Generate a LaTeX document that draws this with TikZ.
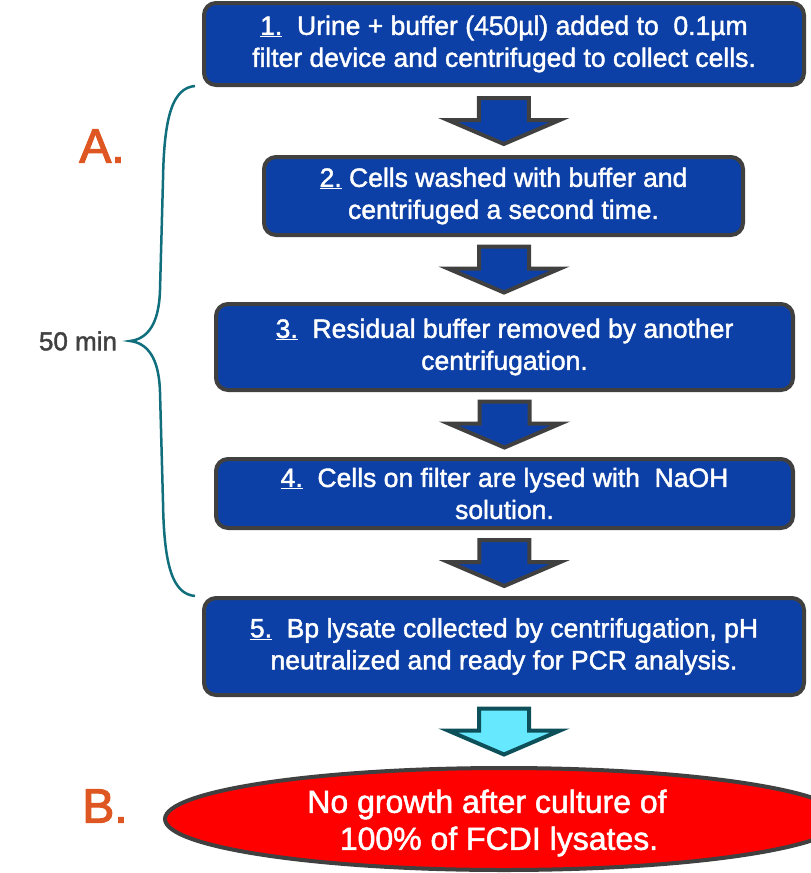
\documentclass[tikz,border=0pt]{standalone}
\usepackage{fontspec}
\setmainfont{Liberation Sans}
\newfontfamily\heavyfont{Liberation Sans}[FakeBold=1.6]
\newfontfamily\labelfont{Liberation Sans}[FakeBold=2.5]
\usepackage{tikz}
\usetikzlibrary{shapes.geometric,calc}

\definecolor{stepblue}{RGB}{13,64,166}
\definecolor{edgegray}{RGB}{64,64,64}
\definecolor{lightcyan}{RGB}{102,232,255}
\definecolor{darkteal}{RGB}{14,80,90}
\definecolor{labelorange}{RGB}{222,87,34}
\definecolor{bracecolor}{RGB}{16,110,125}

\begin{document}
\begin{tikzpicture}[x=1pt, y=-1pt]
    \tikzstyle{stepbox} = [
        draw=edgegray,
        line width=4pt,
        fill=stepblue,
        rounded corners=12pt,
        inner sep=0pt,
        text=white,
        align=center,
        font=\heavyfont\fontsize{26.5}{32}\selectfont,
        execute at begin node={\rule{0pt}{28pt}}
    ]
    \tikzstyle{bluearrow} = [draw=edgegray, line width=4pt, fill=stepblue]
    \tikzstyle{cyanarrow} = [draw=darkteal, line width=4pt, fill=lightcyan]
    \tikzstyle{partlabel} = [text=labelorange, font=\labelfont\fontsize{48}{48}\selectfont]

    \useasboundingbox (0,0) rectangle (811,873);

    \node[stepbox, minimum width=600pt, minimum height=82pt] (s1) at (504,44)
        {\underline{1.}\ \ Urine + buffer (450µl) added to\ \ 0.1µm\\filter device and centrifuged to collect cells.};
    \node[stepbox, minimum width=479pt, minimum height=78pt] (s2) at (503.5,196)
        {\underline{2.} Cells washed with buffer and\\centrifuged a second time.};
    \node[stepbox, minimum width=577pt, minimum height=86pt] (s3) at (504.5,347)
        {\underline{3.}\ \ Residual buffer removed by another\\centrifugation.};
    \node[stepbox, minimum width=577pt, minimum height=69pt] (s4) at (504.5,493.5)
        {\underline{4.}\ \ Cells on filter are lysed with\ \ NaOH\\solution.};
    \node[stepbox, minimum width=600pt, minimum height=97pt] (s5) at (504,646.5)
        {\underline{5.}\ \ Bp lysate collected by centrifugation, pH\\neutralized and ready for PCR analysis.};

    \node[draw=edgegray, line width=4pt, fill=red, ellipse,
          minimum width=678pt, minimum height=102pt] (res) at (504,819) {};
    \node[text=white, align=center, font=\heavyfont\fontsize{32}{37}\selectfont]
        (restext) at ([xshift=-17pt, yshift=-4pt]res.center)
        {No growth after culture of\\\hspace*{24pt}100\% of FCDI lysates.};

    \node[partlabel] (partA) at (102,146) {A.};
    \node[partlabel] (partB) at (105,806) {B.};
    \node[text=edgegray, font=\heavyfont\fontsize{26}{32}\selectfont] (time) at (78,341) {50 min};

    % block arrows between the steps
    \foreach \a/\b/\s in {s1/s2/bluearrow, s2/s3/bluearrow, s3/s4/bluearrow,
                          s4/s5/bluearrow, s5/res/cyanarrow} {
        \coordinate (m) at ($(\a.south)!0.5!(\b.north)$);
        \draw[\s, shift={(m)}] (-25,-23) -- (25,-23) -- (25,-1) -- (56,-1)
            -- (0,23) -- (-56,-1) -- (-25,-1) -- cycle;
    }

    % brace for steps 1 to 4
    \coordinate (bracetop) at (195,86);
    \coordinate (bracetip) at (130,341);
    \coordinate (bracebot) at (195,596);
    \draw[bracecolor, line width=2.5pt]
        (bracetop) .. controls (173,88) and (164,115) .. (163,180)
        -- (160,290) .. controls (159,325) and (147,339) .. (bracetip)
        .. controls (147,343) and (159,357) .. (160,392)
        -- (163,502) .. controls (164,567) and (173,594) .. (bracebot);
\end{tikzpicture}
\end{document}
